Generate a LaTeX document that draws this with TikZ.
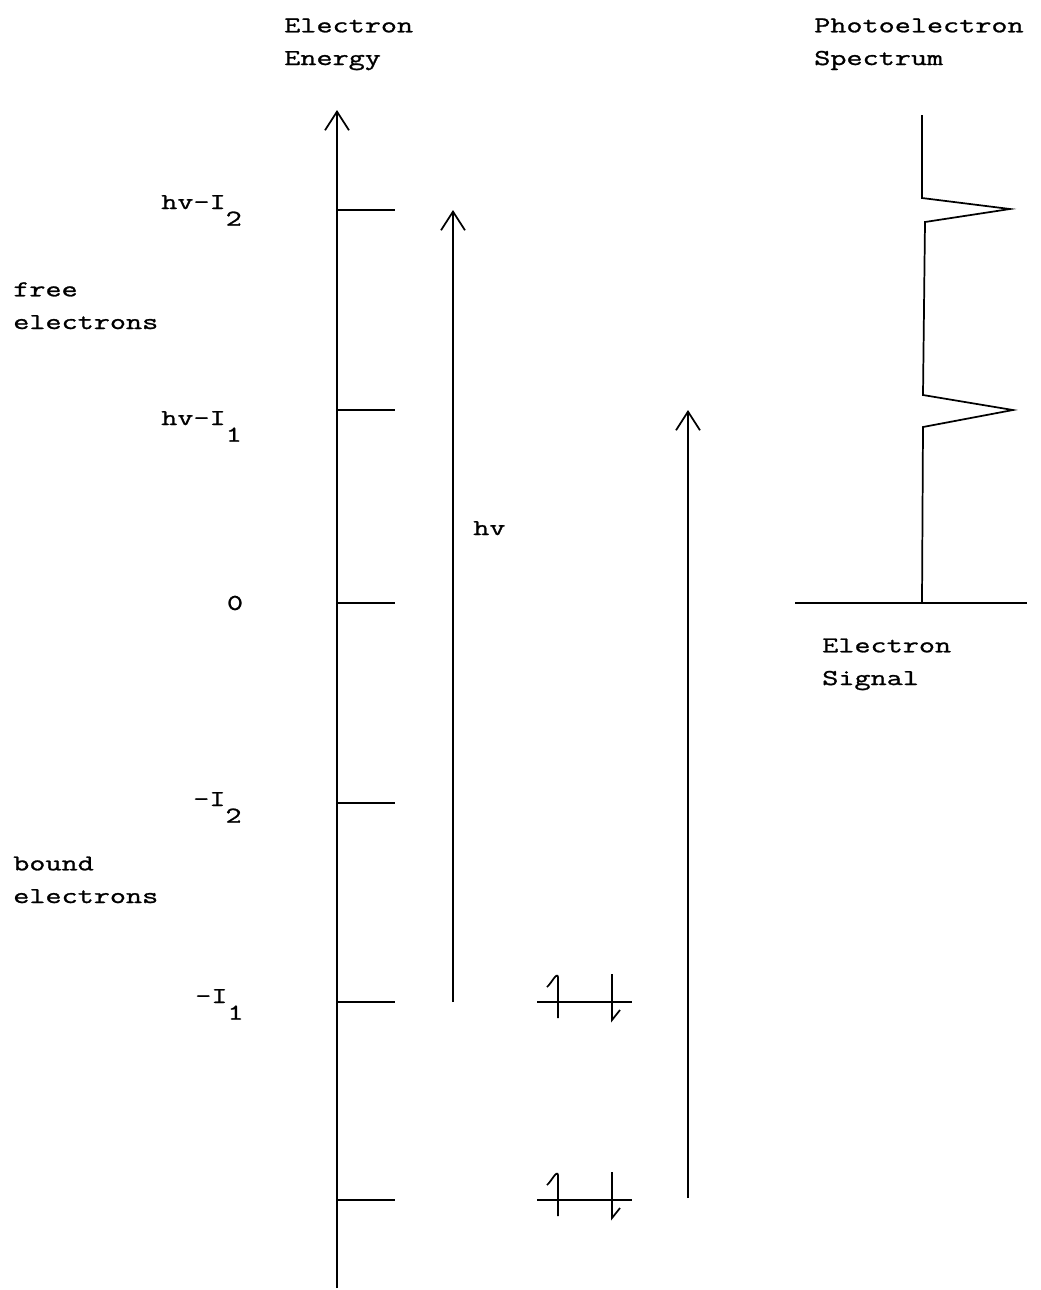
\documentclass[tikz,border=0pt]{standalone}
\usepackage{fontspec}
\setmonofont[FakeStretch=1.38,FakeBold=1.2]{Latin Modern Mono}
\usetikzlibrary{arrows.meta,positioning}
\newcommand{\lowr}[1]{\raisebox{-12.5pt}{#1}}

\begin{document}
\begin{tikzpicture}[x=0.75pt,y=-0.75pt,
 lbl/.style={font=\ttfamily\fontsize{17}{24.5}\selectfont,align=left,inner sep=0pt},
 ln/.style={line width=1.3pt},
 arr/.style={ln,-{Straight Barb[length=14pt,width=18pt]}}]
\useasboundingbox (0,0) rectangle (1040,1290);
% energy axis and levels
\coordinate (axb) at (337,1288); \coordinate (axt) at (337,110);
\foreach \n/\y in {a/210,b/410,c/603,d/803,e/1002,f/1200}{\coordinate (l\n) at (337,\y); \coordinate (t\n) at (395,\y);}
\draw[arr](axb)--(axt);
\foreach \n in {a,b,c,d,e,f}{\draw[ln](l\n)--(t\n);}
\node[lbl,anchor=base west] (axis) at (284,65) {Electron\\Energy};
\node[lbl,anchor=base west] (hvitwo) at (161,209) {hv-I\lowr{2}};
\node[lbl,anchor=base west] (hvione) at (161,425) {hv-I\lowr{1}};
\node[lbl] (zero) at (235,603) {0};
\node[lbl,anchor=base west] (itwo) at (193,806) {-I\lowr{2}};
\node[lbl,anchor=base west] (ione) at (195,1003) {-I\lowr{1}};
\node[lbl,anchor=base west] (free) at (13,329) {free\\electrons};
\node[lbl,anchor=base west] (bound) at (13,903) {bound\\electrons};
% photon arrows
\coordinate (hvb) at (453,1002); \coordinate (hvt) at (453,210);
\coordinate (hwb) at (688,1198); \coordinate (hwt) at (688,410);
\draw[arr](hvb)--(hvt);\draw[arr](hwb)--(hwt);
\node[lbl,anchor=base west] (hv) at (473,535) {hv};
% paired electrons
\foreach \y in {1002,1200}{
 \draw[ln](537,\y)--(632,\y);
 \draw[ln](558,{\y+16})--(558,{\y-25}) to[out=100,in=40] (547,{\y-15});
 \draw[ln](612,{\y-28})--(612,{\y+18})--(620,{\y+8});
}
% spectrum
\coordinate (spt) at (922,115); \coordinate (spb) at (922,603);
\coordinate (sbl) at (795,603); \coordinate (sbr) at (1027,603);
\draw[ln](spt)--(922,198)--(1010,209)--(925,222)--(923,395)--(1013,410)--(923,427)--(spb);
\draw[ln](sbl)--(sbr);
\node[lbl,anchor=base west] (spec) at (814,65) {Photoelectron\\Spectrum};
\node[lbl,anchor=base west] (signal) at (822,685) {Electron\\Signal};
\end{tikzpicture}
\end{document}
